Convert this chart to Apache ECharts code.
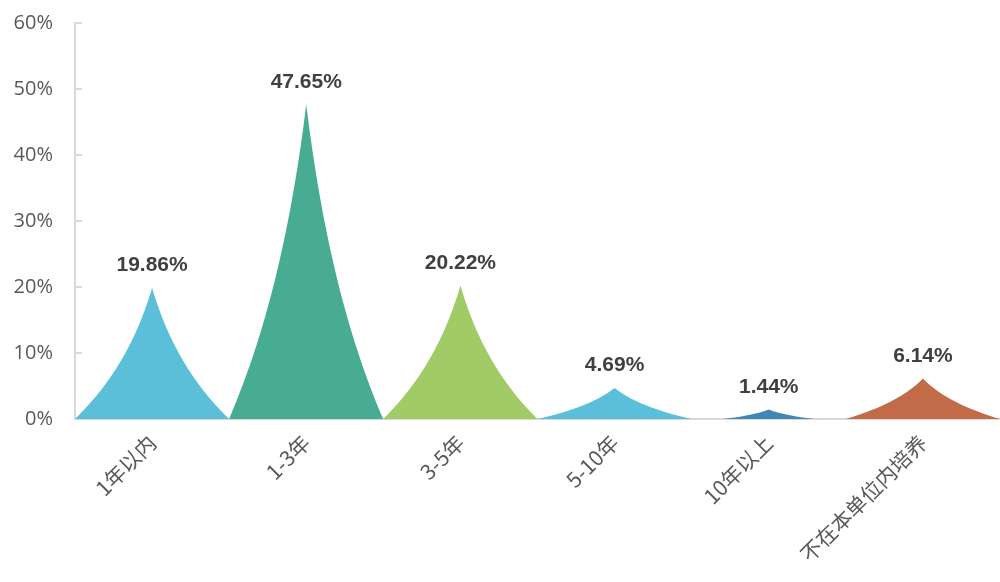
<!DOCTYPE html>
<html><head><meta charset="utf-8">
<script src="https://cdn.jsdelivr.net/npm/echarts@6/dist/echarts.min.js"></script>
<style>html,body{margin:0;padding:0;background:#fff}#c{width:1000px;height:582px}</style>
</head><body><div id="c"></div>
<script>
const categories = ['1年以内','1-3年','3-5年','5-10年','10年以上','不在本单位内培养'];
const values = [19.86, 47.65, 20.22, 4.69, 1.44, 6.14];
const colors = ['#5bbfd9','#48ac93','#a0cb67','#5bbfd9','#3f88b5','#c16b48'];
const yTicks = [0,10,20,30,40,50,60];

const chart = echarts.init(document.getElementById('c'));
chart.setOption({
  animation:false,
  grid:{left:75, top:23, bottom:163, width:934},
  xAxis:{type:'category', data:categories,
    axisLine:{lineStyle:{color:'#d9d9d9', width:2}},
    axisTick:{show:false},
    axisLabel:{rotate:45, color:'#595959', fontSize:21, margin:20, interval:0,
      fontFamily:'"Noto Sans CJK SC", sans-serif'}},
  yAxis:{type:'value', min:yTicks[0], max:yTicks[yTicks.length-1], interval:10,
    axisLine:{show:true, lineStyle:{color:'#d9d9d9', width:2}},
    axisTick:{show:true, inside:true, length:7, lineStyle:{color:'#d9d9d9', width:2}},
    splitLine:{show:false},
    axisLabel:{formatter:'{value}%', color:'#595959', fontSize:20, margin:22,
      fontFamily:'"Open Sans", sans-serif'}},
  series:[{
    type:'pictorialBar',
    barCategoryGap:'0%',
    symbol:'path://M0,10 C1.75,8 3.75,5 5,0 C6.25,5 8.25,8 10,10 Z',
    data: values.map((v,i)=>({value:v, itemStyle:{color:colors[i]},
      symbolSize: i===4 ? ['60%','100%'] : ['100%','100%']})),
    label:{show:true, position:'top', distance:12, formatter:p=>p.value.toFixed(2)+'%',
      color:'#404040', fontSize:21, fontWeight:'bold', fontFamily:'"Liberation Sans", Arial, sans-serif'},
    z:10
  }]
});
</script></body></html>
